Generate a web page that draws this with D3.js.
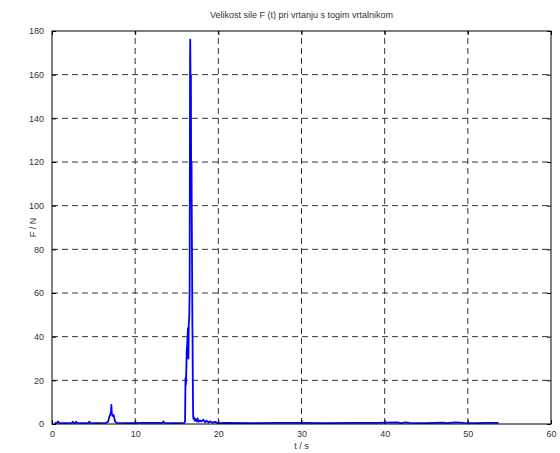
<!DOCTYPE html>
<html lang="en">
<head>
  <meta charset="UTF-8" />
  <title>Velikost sile F (t)</title>
  <script src="https://d3js.org/d3.v7.min.js"></script>
  <style>
    body {
      margin: 0;
      background: #fff;
      font-family: "Liberation Sans", Arial, sans-serif;
    }
    svg text {
      fill: #333;
      font-size: 9px;
    }
  </style>
</head>
<body>
  <div id="chart"></div>

  <script>
    const title = "Velikost sile F (t) pri vrtanju s togim vrtalnikom";
    const xLabel = "t / s";
    const yLabel = "F / N";
    const xTicks = [0, 10, 20, 30, 40, 50, 60];
    const yTicks = [0, 20, 40, 60, 80, 100, 120, 140, 160, 180];

    const time = [
      0.3, 0.6, 0.72, 0.85, 1.5, 2.4, 2.5, 2.6, 2.8, 2.9, 3.0, 4.0, 4.4, 4.5, 4.6, 5.5, 6.5, 6.75,
      6.9, 7.0, 7.1, 7.14, 7.2, 7.3, 7.4, 7.5, 7.6, 7.8, 9.0, 11.0, 13.3, 13.4, 13.5, 15.0, 15.9,
      16.0, 16.05, 16.1, 16.15, 16.2, 16.25, 16.3, 16.35, 16.4, 16.45, 16.5, 16.55, 16.6, 16.62,
      16.64, 16.68, 16.7, 16.72, 16.75, 16.78, 16.8, 16.83, 16.86, 16.88, 16.9, 16.93, 16.96,
      16.98, 17.0, 17.05, 17.1, 17.2, 17.3,
      17.4, 17.5, 17.6, 17.8, 18.0, 18.2, 18.4, 18.6, 18.8, 19.0, 19.3, 19.6, 19.9, 21.0, 24.0,
      27.0, 30.0, 33.0, 36.0, 39.0, 41.5, 42.0, 42.5, 43.0, 45.0, 47.0, 47.5, 48.5, 49.5, 51.0,
      52.0, 53.0, 53.7
    ];
    const force = [
      0.5, 0.5, 1.2, 0.5, 0.4, 0.5, 1.0, 0.5, 0.5, 1.0, 0.5, 0.4, 0.5, 1.1, 0.5, 0.4, 0.5, 1.0,
      3.5, 4.0, 6.0, 8.8, 4.5, 3.8, 4.2, 2.5, 1.0, 0.5, 0.4, 0.5, 0.5, 1.2, 0.5, 0.4, 0.5,
      1.0, 21.0, 18.0, 25.0, 34.0, 36.0, 40.0, 44.0, 30.0, 46.0, 49.0, 60.0, 163.0, 176.0,
      165.0, 150.0, 160.0, 130.0, 102.0, 120.0, 100.0, 80.0, 60.0, 45.0, 40.0, 20.0, 8.0,
      3.0, 2.5, 3.2, 2.2, 1.5, 2.2,
      1.2, 2.6, 1.0, 1.6, 1.2, 2.0, 0.8, 1.5, 0.7, 1.2, 0.6, 1.0, 0.4, 0.5, 0.4,
      0.5, 0.5, 0.4, 0.5, 0.5, 0.7, 0.4, 0.7, 0.5, 0.4, 0.6, 0.4, 0.7, 0.5, 0.4,
      0.5, 0.5, 0.5
    ];

    const width = 560;
    const height = 453;
    const margin = { top: 31, right: 9, bottom: 29, left: 52 };

    const svg = d3.select("#chart")
      .append("svg")
      .attr("width", width)
      .attr("height", height);

    const x = d3.scaleLinear()
      .domain([0, 60])
      .range([margin.left, width - margin.right]);

    const y = d3.scaleLinear()
      .domain([0, 180])
      .range([height - margin.bottom, margin.top]);

    // grid lines
    svg.append("g")
      .selectAll("line")
      .data(xTicks.slice(1, -1))
      .enter()
      .append("line")
      .attr("x1", d => x(d)).attr("x2", d => x(d))
      .attr("y1", y(0)).attr("y2", y(180))
      .attr("stroke", "#333")
      .attr("stroke-dasharray", "6,4");

    svg.append("g")
      .selectAll("line")
      .data(yTicks.slice(1, -1))
      .enter()
      .append("line")
      .attr("x1", x(0)).attr("x2", x(60))
      .attr("y1", d => y(d)).attr("y2", d => y(d))
      .attr("stroke", "#333")
      .attr("stroke-dasharray", "6,4");

    // axes with inward ticks
    const axisStyle = g => {
      g.select(".domain").remove();
      g.selectAll(".tick line").attr("stroke", "#000");
      g.selectAll(".tick text").attr("fill", "#333").style("font-size", "9px");
    };

    svg.append("g")
      .attr("transform", `translate(0,${y(0)})`)
      .call(d3.axisBottom(x).tickValues(xTicks).tickSizeInner(-4).tickSizeOuter(0).tickPadding(7))
      .call(axisStyle);

    svg.append("g")
      .attr("transform", `translate(0,${y(180)})`)
      .call(d3.axisTop(x).tickValues(xTicks).tickSizeInner(-4).tickSizeOuter(0).tickFormat(""))
      .call(axisStyle);

    svg.append("g")
      .attr("transform", `translate(${x(0)},0)`)
      .call(d3.axisLeft(y).tickValues(yTicks).tickSizeInner(-4).tickSizeOuter(0).tickPadding(8))
      .call(axisStyle);

    svg.append("g")
      .attr("transform", `translate(${x(60)},0)`)
      .call(d3.axisRight(y).tickValues(yTicks).tickSizeInner(-4).tickSizeOuter(0).tickFormat(""))
      .call(axisStyle);

    // signal
    const points = time.map((t, i) => [t, force[i]]);
    const line = d3.line()
      .x(d => x(d[0]))
      .y(d => y(d[1]));

    svg.append("path")
      .datum(points)
      .attr("d", line)
      .attr("fill", "none")
      .attr("stroke", "#0000ff")
      .attr("stroke-width", 1.8)
      .attr("stroke-linejoin", "round");

    // frame
    svg.append("rect")
      .attr("x", x(0)).attr("y", y(180))
      .attr("width", x(60) - x(0))
      .attr("height", y(0) - y(180))
      .attr("fill", "none")
      .attr("stroke", "#000");

    // labels
    svg.append("text")
      .attr("x", (x(0) + x(60)) / 2)
      .attr("y", 18)
      .attr("text-anchor", "middle")
      .text(title);

    svg.append("text")
      .attr("x", (x(0) + x(60)) / 2)
      .attr("y", 449)
      .attr("text-anchor", "middle")
      .text(xLabel);

    svg.append("text")
      .attr("transform", `translate(36,${(y(0) + y(180)) / 2}) rotate(-90)`)
      .attr("text-anchor", "middle")
      .text(yLabel);
  </script>
</body>
</html>
